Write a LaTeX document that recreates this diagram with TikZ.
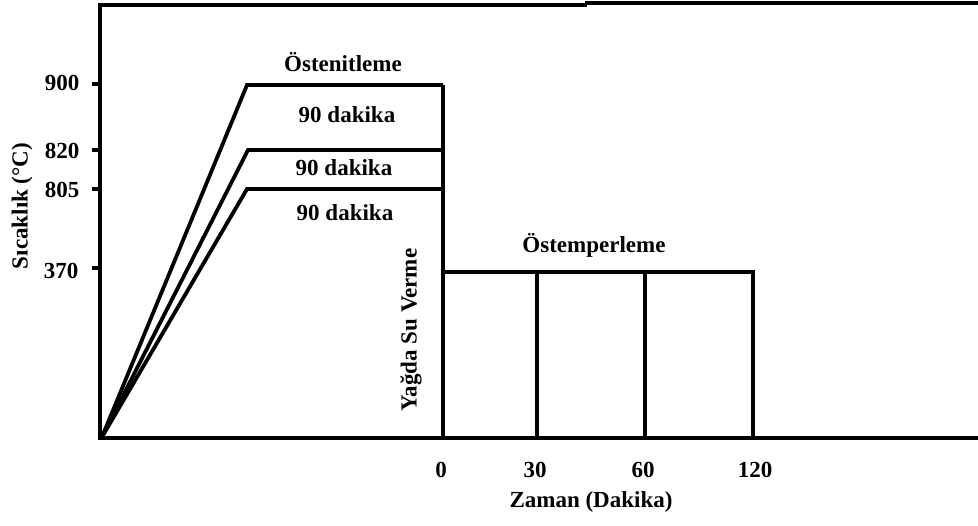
\documentclass[tikz,border=0pt]{standalone}
\usepackage{fontspec}
\setmainfont{Liberation Serif}
\begin{document}
\begin{tikzpicture}[x=0.5pt,y=-0.5pt,
  axis/.style={line width=2pt,line cap=rect},
  curve/.style={line width=1.9pt,line join=miter},
  lbl/.style={font=\fontsize{11.5}{13}\selectfont\bfseries,inner sep=0pt,anchor=center},
  tick/.style={line width=2pt}]
\useasboundingbox (0,0) rectangle (978,525);

% frame corners and axes
\coordinate (tl) at (100,5);
\coordinate (tm) at (585,5);
\coordinate (tm2) at (585,3);
\coordinate (tr) at (978,3);
\coordinate (o) at (100,438);
\coordinate (xr) at (978,438);
\draw[axis] (o) -- (tl) -- (tm);
\draw[line width=2pt] (tm2) -- (tr);
\draw[line width=2pt] (o) -- (xr);

% temperature ticks and labels
\foreach \name/\yy in {t900/84, t820/150, t805/189, t370/268}{
  \coordinate (\name a) at (92,\yy);
  \coordinate (\name b) at (100,\yy);
  \draw[tick] (\name a) -- (\name b);
}
\node[lbl] (l900) at (62,83) {900};
\node[lbl] (l820) at (62,151) {820};
\node[lbl] (l805) at (62,190) {805};
\node[lbl] (l370) at (61,271) {370};

% heating ramps and austenitising holds
\coordinate (s) at (102,437);
\coordinate (a900) at (247,85);
\coordinate (a820) at (248,150);
\coordinate (a805) at (247,189);
\coordinate (e900) at (443,85);
\coordinate (e820) at (443,150);
\coordinate (e805) at (443,189);
\coordinate (q) at (443,438);
\draw[curve] (s) -- (a900) -- (e900);
\draw[curve] (s) -- (a820) -- (e820);
\draw[curve] (s) -- (a805) -- (e805);
\draw[curve] (e900) -- (q);

% austempering holds at 370
\coordinate (b0) at (443,272);
\coordinate (b30) at (537,272);
\coordinate (b60) at (645,272);
\coordinate (b120) at (753,272);
\coordinate (f30) at (537,438);
\coordinate (f60) at (645,438);
\coordinate (f120) at (753,438);
\draw[curve] (b0) -- (b120) -- (f120);
\draw[curve] (b30) -- (f30);
\draw[curve] (b60) -- (f60);

% texts
\node[lbl] (ost) at (343,62) {Östenitleme};
\node[lbl] (d1) at (347,115) {90 dakika};
\node[lbl] (d2) at (344,168) {90 dakika};
\node[lbl] (d3) at (345,213) {90 dakika};
\node[lbl] (ostemp) at (594,245) {Östemperleme};
\node[lbl,rotate=90] (quench) at (411,330) {Yağda Su Verme};
\node[lbl,rotate=90] (ylab) at (22,206) {Sıcaklık (°C)};

\node[lbl] (x0) at (441,470) {0};
\node[lbl] (x30) at (535,470) {30};
\node[lbl] (x60) at (643,470) {60};
\node[lbl] (x120) at (755,470) {120};
\node[lbl] (xlab) at (591,502) {Zaman (Dakika)};
\end{tikzpicture}
\end{document}
